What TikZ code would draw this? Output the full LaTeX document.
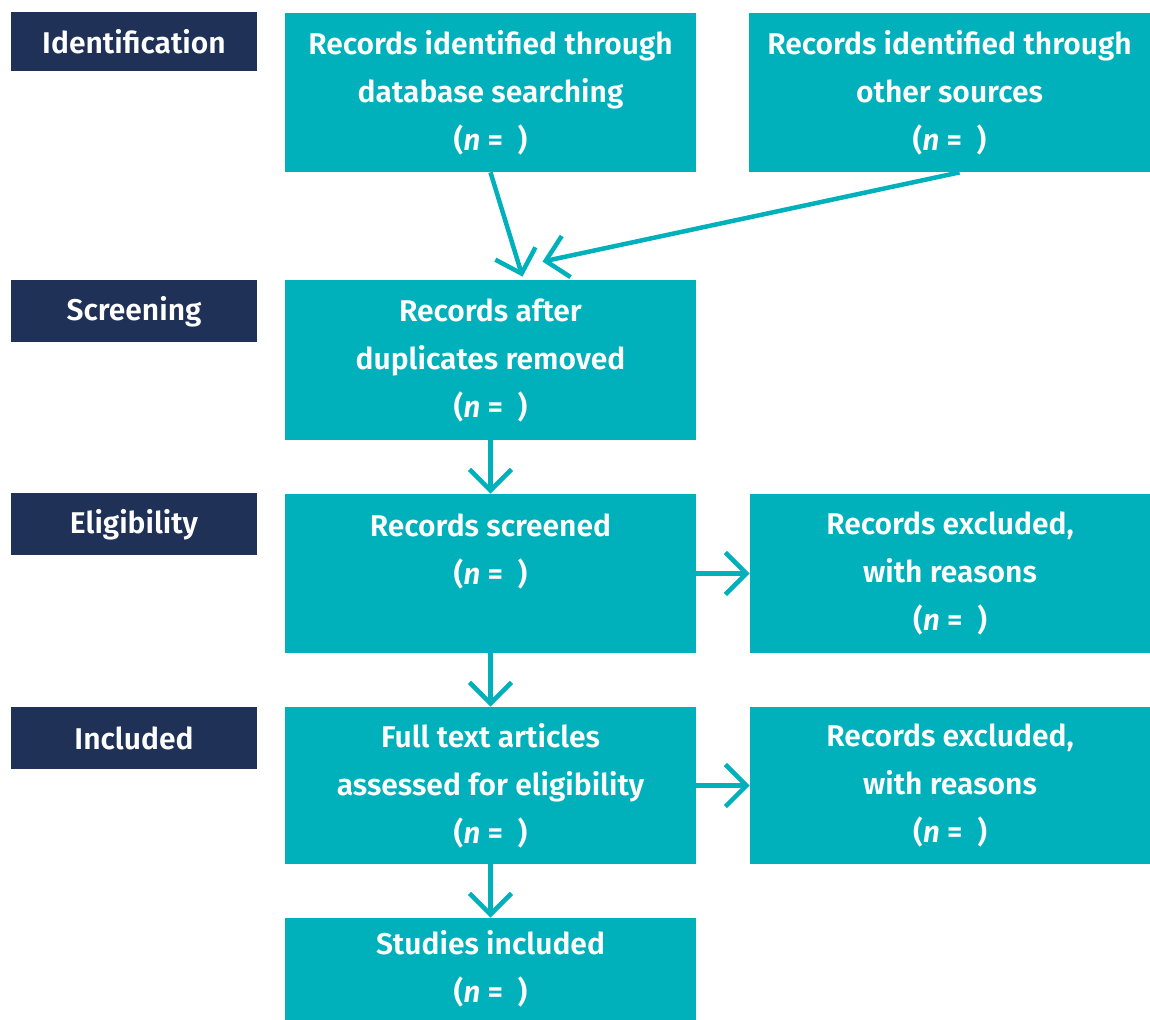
\documentclass[tikz,border=0pt]{standalone}
\usepackage{fontspec}
\setmainfont{Fira Sans}[BoldFont={Fira Sans SemiBold},BoldItalicFont={Fira Sans SemiBold Italic}]
\usetikzlibrary{arrows.meta,positioning}
\definecolor{prteal}{RGB}{0,177,187}
\definecolor{prnavy}{RGB}{31,49,86}

\begin{document}
\begin{tikzpicture}[x=0.5pt,y=-0.5pt,on grid,
    stage/.style={fill=prnavy,text=white,minimum width=123pt,minimum height=31pt,
      inner sep=0pt,font=\bfseries\fontsize{15}{24}\selectfont},
    box/.style={fill=prteal,text=white,minimum width=205.5pt,minimum height=79.5pt,
      inner sep=0pt,align=center,font=\bfseries\fontsize{15}{24}\selectfont},
    flow/.style={draw=prteal,line width=2.25pt,-{Straight Barb[length=10.5pt,width=21pt]}}]
      \useasboundingbox (0,0) rectangle (1150,1020);

      % phases
      \node[stage,minimum height=29.5pt] (idlab)  at (134,41.5)  {Identification};
      \node[stage] (scrlab) at (134,311.5) {Screening};
      \node[stage] (elilab) at (134,524.5) {Eligibility};
      \node[stage] (inclab) at (134,738)   {Included};

      % flow boxes
      \node[box] (db) at (490.5,92.5) {Records identified through\\database searching\\(\textit{n} =\ \ )};
      \node[box,minimum width=200.5pt] (other) [right=229.5pt of db] {Records identified through\\other sources\\(\textit{n} =\ \ )};
      \node[box,minimum height=80pt] (dup) [below=133.75pt of db] {Records after\\duplicates removed\\(\textit{n} =\ \ )};
      \node[box] (screened) [below=106.75pt of dup] {Records screened\\(\textit{n} =\ \ )\\\mbox{}};
      \node[box,minimum width=200pt] (excl1) [right=229.75pt of screened] {Records excluded,\\with reasons\\(\textit{n} =\ \ )};
      \node[box,minimum height=78.5pt] (fulltext) [below=106pt of screened] {Full text articles\\assessed for eligibility\\(\textit{n} =\ \ )};
      \node[box,minimum width=200pt,minimum height=78.5pt] (excl2) [right=229.75pt of fulltext] {Records excluded,\\with reasons\\(\textit{n} =\ \ )};
      \node[box,minimum height=51pt] (studies) [below=91.75pt of fulltext] {Studies included\\(\textit{n} =\ \ )};

      \draw[flow] (db.south) -- ([xshift=16pt,yshift=1.5pt]dup.north);
      \draw[flow] ([xshift=5pt]other.south) -- ([xshift=26pt,yshift=9pt]dup.north);
      \draw[flow] (dup) -- (screened);
      \draw[flow] (screened) -- (excl1);
      \draw[flow] (screened) -- (fulltext);
      \draw[flow] (fulltext) -- (excl2);
      \draw[flow] (fulltext) -- (studies);
    \end{tikzpicture}
\end{document}
